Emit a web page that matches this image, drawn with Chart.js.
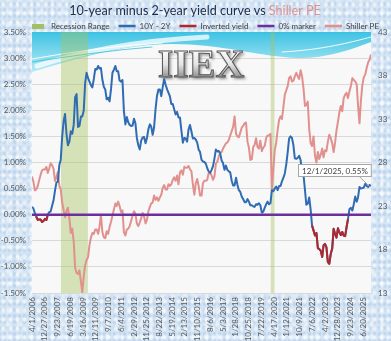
<!DOCTYPE html>
<html>
<head>
<meta charset="utf-8">
<title>10-year minus 2-year yield curve vs Shiller PE</title>
<script src="https://cdn.jsdelivr.net/npm/chart.js@4.4.1/dist/chart.umd.min.js"></script>
<style>
    html, body { margin: 0; padding: 0; }
    body {
        width: 391px;
        height: 341px;
        overflow: hidden;
        background-color: #d6e5f4;
        background-image:
            radial-gradient(rgba(255,255,255,0.65) 1px, transparent 2.6px),
            radial-gradient(rgba(255,255,255,0.45) 1.5px, transparent 3.5px),
            radial-gradient(rgba(160,195,230,0.45) 1px, transparent 2.5px);
        background-size: 7px 9px, 11px 13px, 5px 6px;
        background-position: 0 0, 3px 5px, 2px 1px;
    }
    #chart-box { position: relative; width: 391px; height: 341px; }
</style>
</head>
<body>
<div id="chart-box"><canvas id="chart-yield" width="391" height="341"></canvas></div>
<script>
'use strict';

// monthly series, first value is April 2006
var firstMonth = [2006, 4];

// 10Y - 2Y treasury spread, %
var spread = [
    0.15, 0.12, 0.03, -0.04, -0.10, -0.09, -0.09, -0.14, -0.12,                  // 2006
    -0.08, -0.10, 0.00, 0.05, 0.06, 0.17, 0.27, 0.46, 0.62, 0.63, 0.95, 1.05,    // 2007
    1.50, 1.80, 1.93, 1.55, 1.33, 1.40, 1.60, 1.55, 1.72, 2.25, 2.31, 1.68,      // 2008
    1.70, 1.88, 1.88, 1.99, 2.52, 2.72, 2.62, 2.55, 2.48, 2.44, 2.60, 2.79,      // 2009
    2.78, 2.85, 2.80, 2.81, 2.59, 2.45, 2.40, 2.21, 2.24, 2.17, 2.41, 2.72,      // 2010
    2.78, 2.85, 2.75, 2.75, 2.57, 2.55, 2.58, 1.98, 1.73, 1.87, 1.77, 1.72,      // 2011
    1.70, 1.71, 1.84, 1.75, 1.47, 1.33, 1.25, 1.42, 1.48, 1.49, 1.37, 1.47,      // 2012
    1.64, 1.73, 1.69, 1.53, 1.67, 2.02, 2.27, 2.40, 2.40, 2.27, 2.45, 2.60,      // 2013
    2.49, 2.40, 2.34, 2.27, 2.12, 2.12, 2.02, 1.92, 1.97, 1.86, 1.86, 1.61,      // 2014
    1.38, 1.47, 1.46, 1.40, 1.63, 1.72, 1.60, 1.46, 1.47, 1.44, 1.38, 1.25,      // 2015
    1.20, 1.05, 1.02, 1.01, 0.98, 0.89, 0.83, 0.80, 0.86, 0.93, 1.08, 1.25,      // 2016
    1.21, 1.22, 1.18, 1.04, 0.99, 0.86, 0.94, 0.86, 0.83, 0.81, 0.65, 0.56,      // 2017
    0.56, 0.71, 0.58, 0.47, 0.44, 0.35, 0.30, 0.24, 0.24, 0.30, 0.25, 0.18,      // 2018
    0.18, 0.16, 0.15, 0.20, 0.19, 0.22, 0.18, 0.04, 0.06, 0.13, 0.20, 0.25,      // 2019
    0.20, 0.22, 0.47, 0.45, 0.50, 0.54, 0.47, 0.55, 0.55, 0.64, 0.71, 0.79,      // 2020
    0.97, 1.21, 1.46, 1.50, 1.47, 1.33, 1.08, 1.07, 1.09, 1.13, 1.04, 0.80,      // 2021
    0.76, 0.47, 0.19, 0.21, 0.33, 0.10, -0.21, -0.30, -0.40, -0.35, -0.64, -0.66, // 2022
    -0.69, -0.81, -0.59, -0.56, -0.62, -0.91, -0.94, -0.75, -0.65, -0.27, -0.37, -0.44, // 2023
    -0.26, -0.34, -0.39, -0.33, -0.40, -0.41, -0.24, -0.08, 0.11, 0.13, 0.08, 0.20, // 2024
    0.35, 0.25, 0.33, 0.53, 0.50, 0.51, 0.52, 0.59, 0.55, 0.53, 0.57, 0.55       // 2025
];

// Shiller PE (CAPE), same months
var shillerPE = [
    26.4, 25.8, 24.8, 24.9, 25.3, 26.0, 26.6, 27.1, 27.2,                        // 2006
    27.2, 27.5, 26.8, 27.3, 27.9, 27.7, 27.3, 25.9, 26.3, 26.9, 25.3, 24.9,      // 2007
    23.4, 22.5, 21.7, 22.4, 22.8, 21.6, 19.9, 20.4, 18.9, 15.9, 15.3, 15.2,      // 2008
    15.6, 14.3, 13.1, 14.9, 16.2, 16.8, 17.1, 18.5, 19.4, 19.9, 19.8, 20.3,      // 2009
    20.3, 19.8, 20.6, 22.0, 20.0, 19.4, 19.3, 20.1, 19.8, 20.6, 21.2, 21.9,      // 2010
    22.6, 23.3, 23.0, 23.5, 23.0, 22.3, 22.5, 20.0, 19.6, 20.3, 20.4, 20.7,      // 2011
    21.3, 21.9, 22.4, 22.1, 21.0, 20.7, 21.1, 21.6, 22.2, 21.8, 21.0, 21.4,      // 2012
    22.4, 22.9, 23.3, 23.4, 24.2, 23.7, 24.0, 23.6, 24.0, 24.3, 25.1, 25.4,      // 2013
    24.9, 24.9, 25.5, 25.3, 25.5, 26.0, 26.3, 25.9, 26.5, 25.5, 26.9, 27.1,      // 2014
    26.6, 27.5, 27.4, 27.4, 27.6, 27.2, 27.0, 25.5, 24.3, 25.6, 26.1, 25.3,      // 2015
    24.2, 24.2, 25.6, 25.9, 25.9, 26.0, 26.8, 26.8, 26.5, 26.0, 26.4, 27.9,      // 2016
    28.1, 28.7, 29.1, 29.2, 29.6, 29.9, 30.2, 30.3, 30.6, 31.1, 31.6, 32.1,      // 2017
    33.3, 31.3, 31.0, 30.9, 31.4, 32.0, 32.2, 32.5, 32.6, 30.4, 29.7, 28.3,      // 2018
    28.4, 29.8, 30.0, 30.8, 29.8, 29.6, 30.5, 29.3, 29.7, 29.9, 30.8, 31.1,      // 2019
    31.1, 31.3, 24.8, 27.2, 29.4, 30.3, 31.7, 32.9, 33.3, 33.0, 34.4, 35.8,      // 2020
    36.3, 36.8, 37.7, 37.9, 37.3, 37.4, 37.9, 38.3, 37.9, 37.6, 38.6, 37.9,      // 2021
    36.5, 34.5, 34.6, 35.0, 31.9, 30.2, 29.9, 31.0, 28.8, 28.0, 29.2, 28.4,      // 2022
    28.9, 29.6, 28.6, 29.4, 29.3, 30.4, 31.2, 30.8, 30.2, 29.2, 30.3, 31.7,      // 2023
    32.7, 33.8, 34.5, 33.9, 35.4, 35.8, 36.0, 35.4, 36.2, 36.8, 37.7, 37.5,      // 2024
    37.3, 37.0, 34.6, 32.5, 35.1, 36.9, 37.8, 38.1, 38.9, 39.5, 39.8, 40.4       // 2025
];

// NBER recessions, start / end
var recessions = [
    ['2007-12-01', '2009-06-30'],
    ['2020-02-01', '2020-04-30']
];

// flat 0% reference
var zeroMarker = [0, 0];

// axis ticks
var dateTicks = [
    '4/1/2006', '12/27/2006', '9/23/2007', '6/19/2008', '3/16/2009', '12/11/2009',
    '9/7/2010', '6/4/2011', '2/29/2012', '11/25/2012', '8/22/2013', '5/19/2014',
    '2/13/2015', '11/10/2015', '8/6/2016', '5/3/2017', '1/28/2018', '10/25/2018',
    '7/22/2019', '4/17/2020', '1/12/2021', '10/9/2021', '7/6/2022', '4/2/2023',
    '12/28/2023', '9/23/2024', '6/20/2025'
];
var spreadTicks = [-1.5, -1.0, -0.5, 0, 0.5, 1.0, 1.5, 2.0, 2.5, 3.0, 3.5];
var peTicks = [13, 18, 23, 28, 33, 38, 43];

var COLORS = {
    spread: '#2f6cb3',
    inverted: '#b0282c',
    zero: '#6b2f9e',
    pe: '#e0918e',
    recession: 'rgba(165,195,95,0.42)',
    recessionKey: '#a3c067',
    grid: '#d9d9d9',
    tick: '#595959'
};
var FONT = 'Lato, "Open Sans", sans-serif';

// day numbers for the linear x scale
function dayOfYMD(y, m, d) { return Date.UTC(y, m - 1, d) / 864e5; }
function dayOfIso(s) { var p = s.split('-'); return dayOfYMD(+p[0], +p[1], +p[2]); }
function dayOfUs(s) { var p = s.split('/'); return dayOfYMD(+p[2], +p[0], +p[1]); }
function usDate(day) {
    var d = new Date(day * 864e5);
    return (d.getUTCMonth() + 1) + '/' + d.getUTCDate() + '/' + d.getUTCFullYear();
}

var monthDays = spread.map(function(v, i) {
    var m = firstMonth[1] - 1 + i;
    return dayOfYMD(firstMonth[0] + Math.floor(m / 12), (m % 12) + 1, 1);
});
var xMin = monthDays[0];
var xMax = monthDays[monthDays.length - 1];

function points(values) {
    return values.map(function(v, i) { return { x: monthDays[i], y: v }; });
}

var spreadPoints = points(spread);
var invertedPoints = spread.map(function(v, i) { return { x: monthDays[i], y: v <= 0 ? v : null }; });
var pePoints = points(shillerPE);
var zeroPoints = [{ x: xMin, y: zeroMarker[0] }, { x: xMax, y: zeroMarker[1] }];
var recessionPoints = [];
recessions.forEach(function(r) {
    recessionPoints.push({ x: dayOfIso(r[0]), y: spreadTicks[spreadTicks.length - 1] });
    recessionPoints.push({ x: dayOfIso(r[1]), y: spreadTicks[spreadTicks.length - 1] });
    recessionPoints.push({ x: dayOfIso(r[1]), y: null });
});

// small filled swatch for the recession legend entry
var recessionSwatch = document.createElement('canvas');
recessionSwatch.width = 12;
recessionSwatch.height = 5;
(function() {
    var c = recessionSwatch.getContext('2d');
    c.fillStyle = COLORS.recessionKey;
    c.fillRect(0, 0, 12, 5);
})();

// plot background + watermark banner
var plotBackground = {
    id: 'plotBackground',
    beforeDraw: function(chart) {
        var a = chart.chartArea, ctx = chart.ctx;
        ctx.save();
        ctx.fillStyle = '#f8f8f8';
        ctx.fillRect(a.left, a.top, a.right - a.left, a.bottom - a.top);
        ctx.restore();
    },
    beforeDatasetsDraw: function(chart) {
        var a = chart.chartArea, ctx = chart.ctx;
        var l = a.left, r = a.right, t = a.top;
        ctx.save();
        ctx.beginPath();
        ctx.rect(l, t, r - l, a.bottom - t);
        ctx.clip();

        var g = ctx.createLinearGradient(0, t, 0, t + 40);
        g.addColorStop(0, 'rgba(45,190,225,0.92)');
        g.addColorStop(1, 'rgba(170,232,245,0.85)');
        ctx.beginPath();
        ctx.moveTo(l, t);
        ctx.lineTo(r, t);
        ctx.lineTo(r, t + 10);
        ctx.bezierCurveTo(r - 20, t + 18, l + 290, t + 27, l + 265, t + 26);
        ctx.bezierCurveTo(l + 230, t + 25, l + 190, t + 12, l + 140, t + 12);
        ctx.bezierCurveTo(l + 90, t + 12, l + 40, t + 28, l, t + 40);
        ctx.closePath();
        ctx.fillStyle = g;
        ctx.fill();

        // swooshes
        ctx.lineCap = 'round';
        ctx.strokeStyle = 'rgba(255,255,255,0.75)';
        ctx.lineWidth = 5;
        ctx.beginPath();
        ctx.moveTo(l + 5, t + 34);
        ctx.bezierCurveTo(l + 50, t + 20, l + 100, t + 9, l + 175, t + 5);
        ctx.stroke();
        ctx.lineWidth = 1;
        ctx.strokeStyle = 'rgba(255,255,255,0.9)';
        ctx.beginPath();
        ctx.moveTo(l, t + 27);
        ctx.bezierCurveTo(l + 40, t + 20, l + 80, t + 14, l + 130, t + 11);
        ctx.stroke();
        ctx.beginPath();
        ctx.moveTo(l + 250, t + 20);
        ctx.bezierCurveTo(l + 290, t + 18, l + 320, t + 10, r, t + 5);
        ctx.stroke();
        ctx.strokeStyle = 'rgba(60,190,220,0.8)';
        ctx.beginPath();
        ctx.moveTo(l, t + 30);
        ctx.bezierCurveTo(l + 40, t + 24, l + 80, t + 18, l + 120, t + 15);
        ctx.stroke();

        // IIEX watermark
        ctx.font = 'bold 40px "Liberation Serif", "DejaVu Serif", serif';
        ctx.textAlign = 'center';
        ctx.textBaseline = 'alphabetic';
        var tg = ctx.createLinearGradient(0, 48, 0, 78);
        tg.addColorStop(0, '#ffffff');
        tg.addColorStop(0.55, '#e4e4e4');
        tg.addColorStop(1, '#8c8c8c');
        ctx.shadowColor = 'rgba(0,0,0,0.45)';
        ctx.shadowBlur = 3;
        ctx.shadowOffsetX = 2;
        ctx.shadowOffsetY = 2;
        ctx.fillStyle = tg;
        ctx.fillText('IIEX', 201, 77);
        ctx.shadowColor = 'transparent';
        ctx.lineWidth = 1;
        ctx.strokeStyle = '#555555';
        ctx.strokeText('IIEX', 201, 77);
        ctx.restore();
    }
};

// title in two colours
var twoToneTitle = {
    id: 'twoToneTitle',
    afterDraw: function(chart) {
        var ctx = chart.ctx;
        var a = '10-year minus 2-year yield curve vs ', b = 'Shiller PE';
        ctx.save();
        ctx.font = '12.6px ' + FONT;
        ctx.textBaseline = 'middle';
        ctx.textAlign = 'left';
        var wa = ctx.measureText(a).width, wb = ctx.measureText(b).width;
        var x = 195 - (wa + wb) / 2;
        ctx.fillStyle = '#1d2b4a';
        ctx.fillText(a, x, 11);
        ctx.fillStyle = COLORS.pe;
        ctx.fillText(b, x + wa, 11);
        ctx.restore();
    }
};

// legend row sits a little right of centre
var legendShift = {
    id: 'legendShift',
    afterLayout: function(chart) {
        chart.legend.left += 9;
        chart.legend.right += 9;
    }
};

// call-out for the latest spread value
var lastValueLabel = {
    id: 'lastValueLabel',
    afterDatasetsDraw: function(chart) {
        var meta = chart.getDatasetMeta(1);
        var pt = meta.data[meta.data.length - 1];
        var i = spread.length - 1;
        var text = usDate(monthDays[i]) + ', ' + spread[i].toFixed(2) + '%';
        var ctx = chart.ctx;
        ctx.save();
        ctx.font = '8px ' + FONT;
        var w = ctx.measureText(text).width + 7, h = 12;
        var bx = pt.x - 73, by = pt.y - 22;
        ctx.strokeStyle = '#a6a6a6';
        ctx.lineWidth = 1;
        ctx.beginPath();
        ctx.moveTo(bx + w - 12, by + h);
        ctx.lineTo(pt.x - 2, pt.y);
        ctx.stroke();
        ctx.fillStyle = '#ffffff';
        ctx.fillRect(bx + 0.5, by + 0.5, w, h);
        ctx.strokeRect(bx + 0.5, by + 0.5, w, h);
        ctx.fillStyle = '#404040';
        ctx.textBaseline = 'middle';
        ctx.fillText(text, bx + 4, by + h / 2 + 1);
        ctx.restore();
    }
};

var ctx = document.getElementById('chart-yield').getContext('2d');
var lineBase = { pointRadius: 0, pointHoverRadius: 0, tension: 0, fill: false, borderJoinStyle: 'round' };

var myChart = new Chart(ctx, {
    type: 'line',
    data: {
        datasets: [
            Object.assign({}, lineBase, {
                label: 'Recession Range',
                data: recessionPoints,
                borderWidth: 0,
                borderColor: 'rgba(0,0,0,0)',
                backgroundColor: COLORS.recession,
                fill: 'start',
                spanGaps: false,
                yAxisID: 'y',
                order: 10,
                legendShape: 'swatch',
                legendColor: COLORS.recessionKey
            }),
            Object.assign({}, lineBase, {
                label: '10Y - 2Y',
                data: spreadPoints,
                borderColor: COLORS.spread,
                borderWidth: 2,
                yAxisID: 'y',
                order: 3,
                legendColor: COLORS.spread
            }),
            Object.assign({}, lineBase, {
                label: 'Inverted yield',
                data: invertedPoints,
                borderColor: COLORS.inverted,
                borderWidth: 2,
                spanGaps: false,
                yAxisID: 'y',
                order: 2,
                legendColor: COLORS.inverted
            }),
            Object.assign({}, lineBase, {
                label: '0% marker',
                data: zeroPoints,
                borderColor: COLORS.zero,
                borderWidth: 2.5,
                yAxisID: 'y',
                order: 1,
                legendColor: COLORS.zero
            }),
            Object.assign({}, lineBase, {
                label: 'Shiller PE',
                data: pePoints,
                borderColor: COLORS.pe,
                borderWidth: 2,
                yAxisID: 'y1',
                order: 4,
                legendColor: COLORS.pe
            })
        ]
    },
    options: {
        responsive: false,
        animation: false,
        devicePixelRatio: 1,
        layout: { padding: { top: 13, left: 0, right: 0, bottom: 0 } },
        plugins: {
            title: { display: false },
            tooltip: { enabled: false },
            legend: {
                position: 'top',
                maxHeight: 19,
                labels: {
                    usePointStyle: true,
                    pointStyleWidth: 17,
                    boxHeight: 6,
                    padding: 9,
                    color: '#404040',
                    font: { family: FONT, size: 8 },
                    generateLabels: function(chart) {
                        return chart.data.datasets.map(function(ds, i) {
                            var swatch = ds.legendShape === 'swatch';
                            return {
                                text: ds.label,
                                datasetIndex: i,
                                fillStyle: ds.legendColor,
                                strokeStyle: ds.legendColor,
                                lineWidth: swatch ? 0 : 2.5,
                                pointStyle: swatch ? recessionSwatch : 'line',
                                fontColor: '#404040',
                                hidden: false
                            };
                        });
                    }
                }
            }
        },
        scales: {
            x: {
                type: 'linear',
                min: xMin,
                max: xMax,
                grid: { display: false, drawTicks: false },
                border: { display: false },
                afterBuildTicks: function(scale) {
                    scale.ticks = dateTicks.map(function(s) { return { value: dayOfUs(s) }; });
                },
                afterFit: function(scale) { scale.height = 48; },
                ticks: {
                    autoSkip: false,
                    minRotation: 90,
                    maxRotation: 90,
                    padding: 4,
                    color: COLORS.tick,
                    font: { family: FONT, size: 8 },
                    callback: function(v) { return usDate(v); }
                }
            },
            y: {
                position: 'left',
                min: spreadTicks[0],
                max: spreadTicks[spreadTicks.length - 1],
                afterBuildTicks: function(scale) {
                    scale.ticks = spreadTicks.map(function(v) { return { value: v }; });
                },
                afterFit: function(scale) { scale.width = 32; },
                grid: { color: COLORS.grid, lineWidth: 1, drawTicks: false },
                border: { display: false },
                ticks: {
                    padding: 6,
                    color: COLORS.tick,
                    font: { family: FONT, size: 8 },
                    callback: function(v) { return v.toFixed(2) + '%'; }
                }
            },
            y1: {
                position: 'right',
                min: peTicks[0],
                max: peTicks[peTicks.length - 1],
                afterBuildTicks: function(scale) {
                    scale.ticks = peTicks.map(function(v) { return { value: v }; });
                },
                afterFit: function(scale) { scale.width = 20; },
                grid: { display: false, drawTicks: false },
                border: { display: false },
                ticks: {
                    padding: 7,
                    color: COLORS.tick,
                    font: { family: FONT, size: 8 }
                }
            }
        }
    },
    plugins: [plotBackground, twoToneTitle, legendShift, lastValueLabel]
});
</script>
</body>
</html>
